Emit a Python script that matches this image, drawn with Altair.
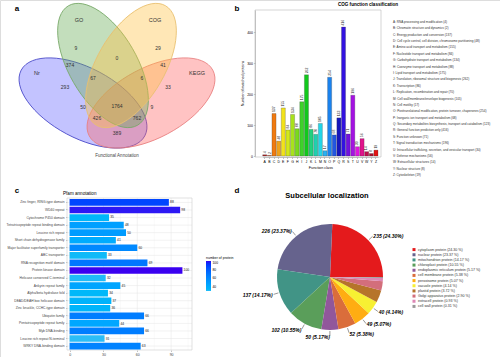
import math
import altair as alt
import pandas as pd

W, H = 500, 357
FONT = "Liberation Sans"

# ---------------- data ----------------
venn_sets = ["GO", "COG", "Nr", "KEGG"]
venn_counts = ["9", "29", "0", "374", "41", "67", "6", "293", "33", "50", "1764", "9", "426", "762", "389"]

cog_codes = list("ABCDEFGHIJKLMNOPQRSTUVWYZ")
cog_names = [
    "RNA processing and modification",
    "Chromatin structure and dynamics",
    "Energy production and conversion",
    "Cell cycle control, cell division, chromosome partitioning",
    "Amino acid transport and metabolism",
    "Nucleotide transport and metabolism",
    "Carbohydrate transport and metabolism",
    "Coenzyme transport and metabolism",
    "Lipid transport and metabolism",
    "Translation, ribosomal structure and biogenesis",
    "Transcription",
    "Replication, recombination and repair",
    "Cell wall/membrane/envelope biogenesis",
    "Cell motility",
    "Posttranslational modification, protein turnover, chaperones",
    "Inorganic ion transport and metabolism",
    "Secondary metabolites biosynthesis, transport and catabolism",
    "General function prediction only",
    "Function unknown",
    "Signal transduction mechanisms",
    "Intracellular trafficking, secretion, and vesicular transport",
    "Defense mechanisms",
    "Extracellular structures",
    "Nuclear structure",
    "Cytoskeleton",
]
cog_counts = [4, 2, 137, 48, 155, 84, 134, 88, 175, 262, 86, 70, 105, 17, 254, 68, 123, 416, 71, 196, 30, 56, 14, 8, 19]

pfam_names = [
    "Zinc finger, RING-type domain",
    "WD40 repeat",
    "Cytochrome P450 domain",
    "Tetratricopeptide repeat binding domain",
    "Leucine rich repeat",
    "Short chain dehydrogenase family",
    "Major facilitator superfamily transporter",
    "ABC transporter",
    "RNA recognition motif domain",
    "Protein kinase domain",
    "Helicase conserved C-terminal",
    "Ankyrin repeat family",
    "Alpha/beta hydrolase fold",
    "DEAD/DEAH box helicase domain",
    "Zinc knuckle, CCHC-type domain",
    "Ubiquitin family",
    "Pentatricopeptide repeat family",
    "Myb DNA-binding",
    "Leucine rich repeat N-terminal",
    "WRKY DNA-binding domain",
]
pfam_counts = [88, 98, 35, 48, 50, 41, 60, 33, 69, 100, 32, 45, 34, 37, 36, 66, 44, 66, 31, 63]

loc_names = [
    "cytoplasm protein", "nuclear protein", "mitochondrion protein", "chloroplast protein",
    "endoplasmic reticulum protein", "cell membrane protein", "peroxisome protein",
    "vacuole protein", "plastid protein", "Golgi apparatus protein",
    "extracell protein", "cell wall protein",
]
loc_counts = [235, 226, 137, 102, 50, 52, 49, 40, 36, 28, 9, 3]

# ---------------- style / layout ----------------
cog_colors = ["#b02020", "#d04010", "#f07a10", "#f0a21a", "#f2e21a", "#d2e81a", "#a8e21a", "#7ada1a",
              "#3ed22a", "#12c81c", "#22d07e", "#20d0b0", "#22d6e8", "#2ab0f2", "#1a82ee", "#2256e2",
              "#1616bc", "#3212e0", "#7212de", "#a412e2", "#e014e0", "#e0148c", "#c0104e", "#b01030", "#e41414"]
loc_colors = ["#E41A1C", "#66638D", "#419486", "#5A9E5A", "#91579B", "#DA6D3B", "#FFAD12",
              "#F7F032", "#B6742A", "#D36E7B", "#DE87B5", "#999999"]

PX = alt.Scale(domain=[0, W], range=[0, W], nice=False, zero=False)
PY = alt.Scale(domain=[0, H], range=[0, H], nice=False, zero=False)
ONE = pd.DataFrame({"k": [0]})


def label(txt, x, y, size, weight="normal", align="center", angle=0, color="#000000", style="normal"):
    return alt.Chart(ONE).mark_text(
        text=txt, fontSize=size, fontWeight=weight, align=align, baseline="middle",
        angle=angle, color=color, font=FONT, fontStyle=style
    ).encode(x=alt.value(x), y=alt.value(y))


def frame(x1, y1, x2, y2, color="#bbbbbb", width=0.6):
    return alt.Chart(ONE).mark_rect(fill=None, stroke=color, strokeWidth=width).encode(
        x=alt.value(x1), x2=alt.value(x2), y=alt.value(y1), y2=alt.value(y2))


layers = []

# ================= panel a : Venn =================
ell = pd.DataFrame({
    "set": ["Nr", "KEGG", "GO", "COG"],
    "cx": [83, 151, 103, 131], "cy": [103, 103, 65.5, 65.5],
    "a": [70, 70, 69, 69], "b": [35, 35, 34, 34], "ang": [28, 332, 60, 300],
    "fill": ["#6060ff", "#ff6060", "#60a850", "#ffc040"],
    "stroke": ["#4848c8", "#e88080", "#78a868", "#e8c070"],
})
ell["path"] = [f"M -1 0 A 1 {b/a:.4f} 0 1 1 1 0 A 1 {b/a:.4f} 0 1 1 -1 0 Z" for a, b in zip(ell.a, ell.b)]
ell["size"] = (2 * ell["a"]) ** 2
layers.append(alt.Chart(ell).mark_point(filled=True, fillOpacity=0.38, strokeWidth=0.8, opacity=1).encode(
    x=alt.X("cx:Q", scale=PX, axis=None), y=alt.Y("cy:Q", scale=PY, axis=None),
    shape=alt.Shape("path:N", scale=None), size=alt.Size("size:Q", scale=None),
    angle=alt.Angle("ang:Q", scale=None), fill=alt.Fill("fill:N", scale=None),
    stroke=alt.Stroke("stroke:N", scale=None)))

venn_set_xy = [(79, 20), (155, 20), (37, 73), (197, 73)]
vs = pd.DataFrame({"t": venn_sets, "x": [p[0] for p in venn_set_xy], "y": [p[1] for p in venn_set_xy]})
layers.append(alt.Chart(vs).mark_text(fontSize=5.5, color="#333333", font=FONT).encode(
    x=alt.X("x:Q", scale=PX, axis=None), y=alt.Y("y:Q", scale=PY, axis=None), text="t:N"))

venn_xy = [(76, 48), (158, 48), (117, 58), (70, 65), (163, 65), (93, 78), (142, 78), (65, 87),
           (168, 87), (83, 107), (117, 106), (152, 107), (97, 118), (137, 118), (117, 133)]
vc = pd.DataFrame({"t": venn_counts, "x": [p[0] for p in venn_xy], "y": [p[1] for p in venn_xy]})
layers.append(alt.Chart(vc).mark_text(fontSize=5, color="#333333", font=FONT).encode(
    x=alt.X("x:Q", scale=PX, axis=None), y=alt.Y("y:Q", scale=PY, axis=None), text="t:N"))
layers.append(label("Functional Annotation", 117, 156, 4.5, color="#444444"))
layers.append(label("a", 17, 9, 8, weight="bold"))

# ================= panel b : COG bars =================
cog = pd.DataFrame({"code": cog_codes, "count": cog_counts, "name": cog_names})
bx_scale = alt.Scale(domain=cog_codes, range=[262.7, 378], paddingInner=0.12, paddingOuter=0)
by_scale = alt.Scale(domain=[0, 471], range=[156, 10], nice=False)
layers.append(frame(255, 10, 381, 157))
layers.append(alt.Chart(cog).mark_bar(stroke="#333333", strokeWidth=0.25).encode(
    x=alt.X("code:N", sort=cog_codes, scale=bx_scale,
            axis=alt.Axis(orient="bottom", offset=-(H - 157), title="Function class", labelAngle=0,
                          labelFontSize=3.5, titleFontSize=3.8, tickSize=1.5, labelPadding=1,
                          titlePadding=2, titleFontWeight="normal", labelFont=FONT, titleFont=FONT,
                          domainColor="#888888", tickColor="#888888", domainWidth=0.5, tickWidth=0.5)),
    y=alt.Y("count:Q", scale=by_scale,
            axis=alt.Axis(orient="left", offset=-255, values=[0, 100, 200, 300, 400],
                          title="Number of matched proteins", labelFontSize=3.5, titleFontSize=3.6,
                          tickSize=1.5, labelPadding=1, titlePadding=2, grid=False,
                          titleFontWeight="normal", labelFont=FONT, titleFont=FONT,
                          domainColor="#888888", tickColor="#888888", domainWidth=0.5, tickWidth=0.5)),
    color=alt.Color("code:N", scale=alt.Scale(domain=cog_codes, range=cog_colors), legend=None)))
layers.append(alt.Chart(cog).mark_text(angle=270, align="left", baseline="middle", dx=1.5,
                                       fontSize=3.4, font=FONT, color="#222222").encode(
    x=alt.X("code:N", sort=cog_codes, scale=bx_scale, axis=None),
    y=alt.Y("count:Q", scale=by_scale, axis=None), text="count:Q"))
layers.append(alt.Chart(cog).transform_calculate(
    lab="datum.code + ': ' + datum.name + ' (' + datum.count + ')'").mark_text(
    align="left", baseline="middle", fontSize=3.1, font=FONT, color="#333333").encode(
    x=alt.value(393),
    y=alt.Y("code:N", sort=cog_codes, scale=alt.Scale(domain=cog_codes, range=[18.5, 178.2]), axis=None),
    text="lab:N"))
layers.append(label("COG function classification", 368, 4.5, 4.6, weight="bold"))
layers.append(label("b", 237, 9, 8, weight="bold"))

# ================= panel c : Pfam bars =================
pf = pd.DataFrame({"name": pfam_names, "count": pfam_counts})
cx_scale = alt.Scale(domain=[-2.3, 108.5], range=[67, 192], nice=False, zero=False)
cy_scale = alt.Scale(domain=pfam_names, range=[198.5, 350], paddingInner=0.12, paddingOuter=0.08)
grid_major = pd.DataFrame({"v": [0, 30, 60, 90]})
grid_minor = pd.DataFrame({"v": [15, 45, 75, 105]})
layers.append(alt.Chart(grid_minor).mark_rule(color="#f0f0f0", strokeWidth=0.4).encode(
    x=alt.X("v:Q", scale=cx_scale, axis=None), y=alt.value(198), y2=alt.value(350)))
layers.append(alt.Chart(grid_major).mark_rule(color="#e4e4e4", strokeWidth=0.5).encode(
    x=alt.X("v:Q", scale=cx_scale, axis=None), y=alt.value(198), y2=alt.value(350)))
layers.append(alt.Chart(pf).mark_rule(color="#e4e4e4", strokeWidth=0.5).encode(
    y=alt.Y("name:N", sort=pfam_names, scale=cy_scale, axis=None), x=alt.value(67), x2=alt.value(192)))
layers.append(frame(67, 198, 192, 350, color="#cccccc"))
layers.append(alt.Chart(pf).mark_bar().encode(
    x=alt.X("count:Q", scale=cx_scale,
            axis=alt.Axis(orient="bottom", offset=-7, values=[0, 30, 60, 90], labelFontSize=3.5,
                          title=None, tickSize=1.5, labelPadding=1, grid=False, domain=False,
                          labelFont=FONT, tickColor="#888888", tickWidth=0.5, labelColor="#444444")),
    y=alt.Y("name:N", sort=pfam_names, scale=cy_scale,
            axis=alt.Axis(orient="left", offset=-67, labelFontSize=3.3, title=None, tickSize=1.5,
                          labelPadding=1.5, domain=False, labelLimit=300, labelFont=FONT,
                          tickColor="#888888", tickWidth=0.5, labelColor="#444444")),
    color=alt.Color("count:Q", scale=alt.Scale(domain=[31, 100], range=["#2bbdf7", "#3a00f0"]),
                    legend=alt.Legend(orient="none", legendX=206, legendY=256, title="number of protein",
                                      titleFontSize=3.5, labelFontSize=3.3, gradientLength=30,
                                      gradientThickness=5, values=[40, 60, 80, 100], direction="vertical",
                                      titlePadding=1.5, titleFont=FONT, labelFont=FONT,
                                      titleFontWeight="normal", labelOffset=1.5, tickCount=4))))
layers.append(alt.Chart(pf).mark_text(align="left", baseline="middle", dx=1.2, fontSize=3.3,
                                      font=FONT, color="#222222").encode(
    x=alt.X("count:Q", scale=cx_scale, axis=None),
    y=alt.Y("name:N", sort=pfam_names, scale=cy_scale, axis=None), text="count:Q"))
layers.append(label("Pfam annotation", 63, 194, 4.6, align="left"))
layers.append(label("c", 17, 191, 8, weight="bold"))

# ================= panel d : pie =================
PCX, PCY, PR = 330, 277, 53
loc = pd.DataFrame({"name": loc_names, "count": loc_counts, "idx": list(range(len(loc_names)))})
layers.append(alt.Chart(loc).mark_arc(outerRadius=PR).encode(
    theta=alt.Theta("count:Q", stack=True, scale=alt.Scale(range=[2.5 * math.pi, 0.5 * math.pi])),
    order=alt.Order("idx:Q"),
    color=alt.Color("name:N", scale=alt.Scale(domain=loc_names, range=loc_colors), legend=None),
    x=alt.value(PCX), y=alt.value(PCY)))

pie_lab = alt.Chart(loc).transform_window(
    cum="sum(count)", sort=[alt.SortField("idx")], frame=[None, 0]
).transform_joinaggregate(total="sum(count)").transform_calculate(
    pct="datum.count / datum.total * 100",
    phi="2 * PI * (datum.cum - datum.count / 2) / datum.total",
    lx=f"{PCX} + {PR + 7} * cos(datum.phi)",
    ly=f"{PCY} - {PR + 7} * sin(datum.phi)",
    l1x=f"{PCX} + {PR + 1} * cos(datum.phi)",
    l1y=f"{PCY} - {PR + 1} * sin(datum.phi)",
    l2x=f"{PCX} + {PR + 6} * cos(datum.phi)",
    l2y=f"{PCY} - {PR + 6} * sin(datum.phi)",
    lab="datum.count + ' (' + format(datum.pct, '.2f') + '%)'",
).transform_filter("datum.pct >= 4")
layers.append(pie_lab.mark_rule(color="#333333", strokeWidth=0.5).encode(
    x=alt.X("l1x:Q", scale=PX, axis=None), y=alt.Y("l1y:Q", scale=PY, axis=None),
    x2="l2x:Q", y2="l2y:Q"))
layers.append(pie_lab.transform_filter("cos(datum.phi) >= 0").mark_text(
    align="left", baseline="middle", fontSize=5, fontWeight="bold", fontStyle="italic", font=FONT).encode(
    x=alt.X("lx:Q", scale=PX, axis=None), y=alt.Y("ly:Q", scale=PY, axis=None), text="lab:N"))
layers.append(pie_lab.transform_filter("cos(datum.phi) < 0").mark_text(
    align="right", baseline="middle", fontSize=5, fontWeight="bold", fontStyle="italic", font=FONT).encode(
    x=alt.X("lx:Q", scale=PX, axis=None), y=alt.Y("ly:Q", scale=PY, axis=None), text="lab:N"))

leg_y = alt.Scale(domain=loc_names, range=[247, 309])
leg = alt.Chart(loc).transform_joinaggregate(total="sum(count)").transform_calculate(
    lab="datum.name + ' (' + format(datum.count / datum.total * 100, '.2f') + ' %)'")
layers.append(leg.mark_square(size=9, opacity=1).encode(
    x=alt.value(414), y=alt.Y("name:N", sort=loc_names, scale=leg_y, axis=None),
    color=alt.Color("name:N", scale=alt.Scale(domain=loc_names, range=loc_colors), legend=None)))
layers.append(leg.mark_text(align="left", baseline="middle", fontSize=3.6, font=FONT, color="#333333").encode(
    x=alt.value(418), y=alt.Y("name:N", sort=loc_names, scale=leg_y, axis=None), text="lab:N"))
layers.append(label("Subcellular localization", 327, 196, 7.5, weight="bold"))
layers.append(label("d", 237, 191, 8, weight="bold"))

chart = alt.layer(*layers).resolve_scale(
    x="independent", y="independent", color="independent", theta="independent"
).properties(width=W, height=H, padding=0, autosize=alt.AutoSizeParams(type="none")).configure_view(
    strokeWidth=0).configure(background="white")

chart.save("out.html", embed_options={"renderer": "svg", "actions": False})
